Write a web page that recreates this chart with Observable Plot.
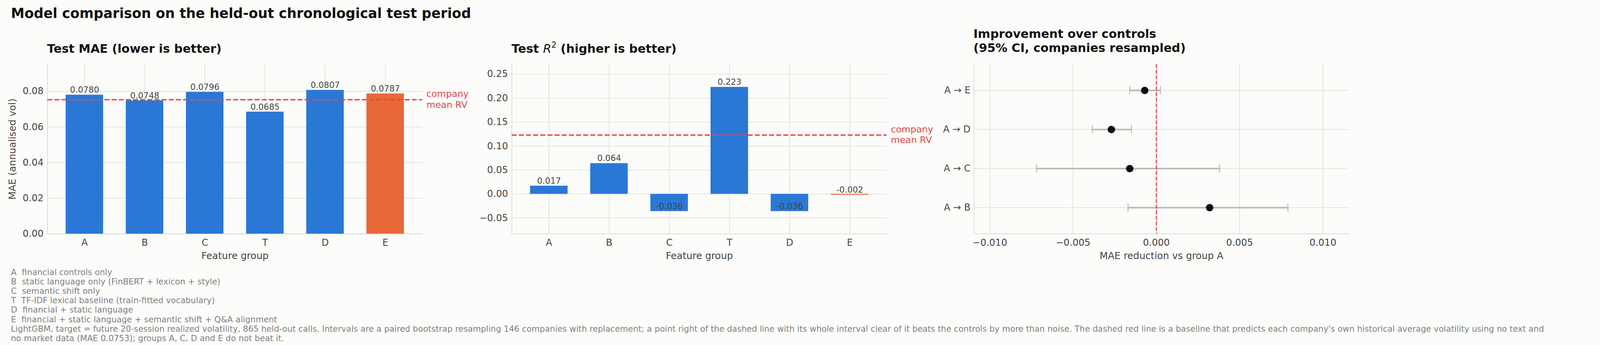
<!DOCTYPE html>
<html>
<head>
<meta charset="utf-8">
<script src="https://cdn.jsdelivr.net/npm/d3@7"></script>
<script src="https://cdn.jsdelivr.net/npm/@observablehq/plot@0.6"></script>
<style>
html, body { margin: 0; padding: 0; background: #fcfcfa; }
#root { position: relative; width: 4669px; height: 883px; overflow: hidden; background: #fcfcfa; font-family: "DejaVu Sans", sans-serif; }
.abs { position: absolute; white-space: pre; }
</style>
</head>
<body>
<div id="root"></div>
<script>
// ---------------- data ----------------
const figureTitle = "Model comparison on the held-out chronological test period";
const panel1Title = "Test MAE (lower is better)";
const panel3TitleLines = ["Improvement over controls", "(95% CI, companies resampled)"];

const groups = ["A", "B", "C", "T", "D", "E"];
const maeValues = [0.0780, 0.0748, 0.0796, 0.0685, 0.0807, 0.0787];
const r2Values = [0.017, 0.064, -0.036, 0.223, -0.036, -0.002];
const highlightGroup = "E";
const baselineMAE = 0.0753;
const baselineR2 = 0.123;
const baselineLabel = "company\nmean RV";
const maeTicks = [0, 0.02, 0.04, 0.06, 0.08];
const r2Ticks = [-0.05, 0, 0.05, 0.10, 0.15, 0.20, 0.25];

const comparisons = ["A → B", "A → C", "A → D", "A → E"];
const deltaPoint = [0.0032, -0.0016, -0.0027, -0.0007];
const deltaLow = [-0.0017, -0.0072, -0.00385, -0.0016];
const deltaHigh = [0.0079, 0.0038, -0.0015, 0.00024];
const deltaTicks = [-0.010, -0.005, 0, 0.005, 0.010];

const yLabelMAE = "MAE (annualised vol)";
const xLabelGroups = "Feature group";
const xLabelDelta = "MAE reduction vs group A";

const groupNotes = [
  "A  financial controls only",
  "B  static language only (FinBERT + lexicon + style)",
  "C  semantic shift only",
  "T  TF-IDF lexical baseline (train-fitted vocabulary)",
  "D  financial + static language",
  "E  financial + static language + semantic shift + Q&A alignment"
];
// the footnote is wrapped once so it stays inside the photographed width
const footnoteLines = [
  "LightGBM, target = future 20-session realized volatility, 865 held-out calls. Intervals are a paired bootstrap resampling 146 companies with replacement; a point right of the dashed line with its whole interval clear of it beats the controls by more than noise. The dashed red line is a baseline that predicts each company's own historical average volatility using no text and",
  "no market data (MAE 0.0753); groups A, C, D and E do not beat it."
];

// ---------------- styles ----------------
const blue = "#2a78d6";
const orange = "#e9683a";
const red = "#e04848";
const gridColor = "#e3e3de";
const spineColor = "#dcdbd5";
const errColor = "#b9b9b2";
const tickText = "#444444";

const root = document.getElementById("root");

function addHTML(html, css) {
  const d = document.createElement("div");
  d.className = "abs";
  Object.assign(d.style, css);
  d.innerHTML = html;
  root.appendChild(d);
  return d;
}
function addText(text, css) {
  const d = document.createElement("div");
  d.className = "abs";
  Object.assign(d.style, css);
  d.textContent = text;
  root.appendChild(d);
  return d;
}
function place(svg, left) {
  const d = document.createElement("div");
  d.style.position = "absolute";
  d.style.left = left + "px";
  d.style.top = "0px";
  d.appendChild(svg);
  root.appendChild(d);
}

// titles
addText(figureTitle, {left: "28px", top: "17.2px", fontSize: "34.8px", fontWeight: "bold", lineHeight: "1", color: "#111"});
addText(panel1Title, {left: "120.5px", top: "110.2px", fontSize: "30.5px", fontWeight: "bold", lineHeight: "1", color: "#111"});
addHTML('Test <span style="font-style:italic;font-weight:normal">R</span><span style="font-weight:normal;font-size:0.68em;position:relative;top:-0.62em">2</span> (higher is better)',
  {left: "1309.5px", top: "109.7px", fontSize: "30.5px", fontWeight: "bold", lineHeight: "1", color: "#111"});
addText(panel3TitleLines.join("\n"), {left: "2492px", top: "69.4px", fontSize: "30.5px", fontWeight: "bold", lineHeight: "36px", color: "#111"});

// caption
addText(groupNotes.concat(footnoteLines).join("\n"), {left: "28px", top: "684.6px", fontSize: "21.1px", lineHeight: "24.2px", color: "#808080"});

const common = {
  height: 690,
  marginTop: 164,
  marginBottom: 92,
  style: {fontFamily: '"DejaVu Sans", sans-serif', fontSize: "24px", color: tickText, background: "transparent", overflow: "visible"}
};
const spines = [
  Plot.frame({anchor: "left", stroke: spineColor, strokeWidth: 2}),
  Plot.frame({anchor: "bottom", stroke: spineColor, strokeWidth: 2})
];

// ---------------- panel 1 ----------------
const maeData = groups.map((g, i) => ({group: g, value: maeValues[i]}));
const p1 = Plot.plot({
  ...common,
  width: 1250,
  marginLeft: 121,
  marginRight: 169,
  x: {type: "band", domain: groups, paddingInner: 0.375, paddingOuter: 0.2875},
  y: {domain: [0, 0.0952]},
  marks: [
    Plot.gridX({stroke: gridColor, strokeOpacity: 1, strokeWidth: 2}),
    Plot.gridY(maeTicks, {stroke: gridColor, strokeOpacity: 1, strokeWidth: 2}),
    ...spines,
    Plot.barY(maeData.filter(d => d.group !== highlightGroup), {x: "group", y: "value", fill: blue}),
    Plot.barY(maeData.filter(d => d.group === highlightGroup), {x: "group", y: "value", fill: orange}),
    Plot.ruleY([baselineMAE], {stroke: red, strokeWidth: 3.5, strokeDasharray: "12.8,5.5"}),
    Plot.text([baselineMAE], {y: d => d, text: () => baselineLabel, frameAnchor: "right", textAnchor: "start", dx: 10, dy: -2, lineAnchor: "middle", lineHeight: 1.16, fill: red, fontSize: 23.5}),
    Plot.text(maeData, {x: "group", y: "value", text: d => d.value.toFixed(4), lineAnchor: "bottom", dy: -5.7, fill: tickText, fontSize: 21.3}),
    Plot.axisX({tickSize: 0, tickPadding: 13.1, label: null}),
    Plot.axisY(maeTicks, {tickSize: 0, tickPadding: 10, tickFormat: d3.format(".2f"), label: null}),
    Plot.text([yLabelMAE], {frameAnchor: "left", textAnchor: "middle", rotate: -90, dx: -99.2, lineAnchor: "top", text: d => d, fill: tickText, fontSize: 24.6}),
    Plot.text([xLabelGroups], {frameAnchor: "bottom", textAnchor: "middle", dy: 64, lineAnchor: "bottom", text: d => d, fill: tickText, fontSize: 24.6})
  ]
});
place(p1, 0);

// ---------------- panel 2 ----------------
const r2Data = groups.map((g, i) => ({group: g, value: r2Values[i]}));
const p2 = Plot.plot({
  ...common,
  width: 1220,
  marginLeft: 120,
  marginRight: 140,
  x: {type: "band", domain: groups, paddingInner: 0.375, paddingOuter: 0.2875},
  y: {domain: [-0.083, 0.2706]},
  marks: [
    Plot.gridX({stroke: gridColor, strokeOpacity: 1, strokeWidth: 2}),
    Plot.gridY(r2Ticks, {stroke: gridColor, strokeOpacity: 1, strokeWidth: 2}),
    ...spines,
    Plot.barY(r2Data.filter(d => d.group !== highlightGroup), {x: "group", y: "value", fill: blue}),
    Plot.barY(r2Data.filter(d => d.group === highlightGroup), {x: "group", y: "value", fill: orange}),
    Plot.ruleY([baselineR2], {stroke: red, strokeWidth: 3.5, strokeDasharray: "12.8,5.5"}),
    Plot.text([baselineR2], {y: d => d, text: () => baselineLabel, frameAnchor: "right", textAnchor: "start", dx: 10, dy: -2, lineAnchor: "middle", lineHeight: 1.16, fill: red, fontSize: 23.5}),
    Plot.text(r2Data, {x: "group", y: "value", text: d => d.value.toFixed(3), lineAnchor: "bottom", dy: -5.7, fill: tickText, fontSize: 21.3}),
    Plot.axisX({tickSize: 0, tickPadding: 13.1, label: null}),
    Plot.axisY(r2Ticks, {tickSize: 0, tickPadding: 10, tickFormat: d3.format(".2f"), label: null}),
    Plot.text([xLabelGroups], {frameAnchor: "bottom", textAnchor: "middle", dy: 64, lineAnchor: "bottom", text: d => d, fill: tickText, fontSize: 24.6})
  ]
});
place(p2, 1190);

// ---------------- panel 3 ----------------
const deltaData = comparisons.map((c, i) => ({name: c, point: deltaPoint[i], lo: deltaLow[i], hi: deltaHigh[i]}));
const p3 = Plot.plot({
  ...common,
  width: 1150,
  marginLeft: 113,
  marginRight: 77,
  x: {domain: [-0.01095, 0.01157]},
  y: {type: "band", domain: comparisons.slice().reverse(), paddingInner: 0, paddingOuter: 0.15},
  marks: [
    Plot.gridX(deltaTicks, {stroke: gridColor, strokeOpacity: 1, strokeWidth: 2}),
    Plot.gridY({stroke: gridColor, strokeOpacity: 1, strokeWidth: 2}),
    ...spines,
    Plot.ruleY(deltaData, {y: "name", x1: "lo", x2: "hi", stroke: errColor, strokeWidth: 4}),
    Plot.tickX(deltaData, {x: "lo", y: "name", stroke: errColor, strokeWidth: 2.5, insetTop: 39.6, insetBottom: 39.6}),
    Plot.tickX(deltaData, {x: "hi", y: "name", stroke: errColor, strokeWidth: 2.5, insetTop: 39.6, insetBottom: 39.6}),
    Plot.ruleX([0], {stroke: red, strokeWidth: 2.8, strokeDasharray: "10,4.4"}),
    Plot.dot(deltaData, {x: "point", y: "name", r: 9.5, fill: "#0b0b0b"}),
    Plot.axisX(deltaTicks, {tickSize: 0, tickPadding: 13.1, tickFormat: d3.format(".3f"), label: null}),
    Plot.axisY({tickSize: 0, tickPadding: 9, label: null}),
    Plot.text([xLabelDelta], {frameAnchor: "bottom", textAnchor: "middle", dy: 64, lineAnchor: "bottom", text: d => d, fill: tickText, fontSize: 24.6})
  ]
});
place(p3, 2380);
</script>
</body>
</html>
